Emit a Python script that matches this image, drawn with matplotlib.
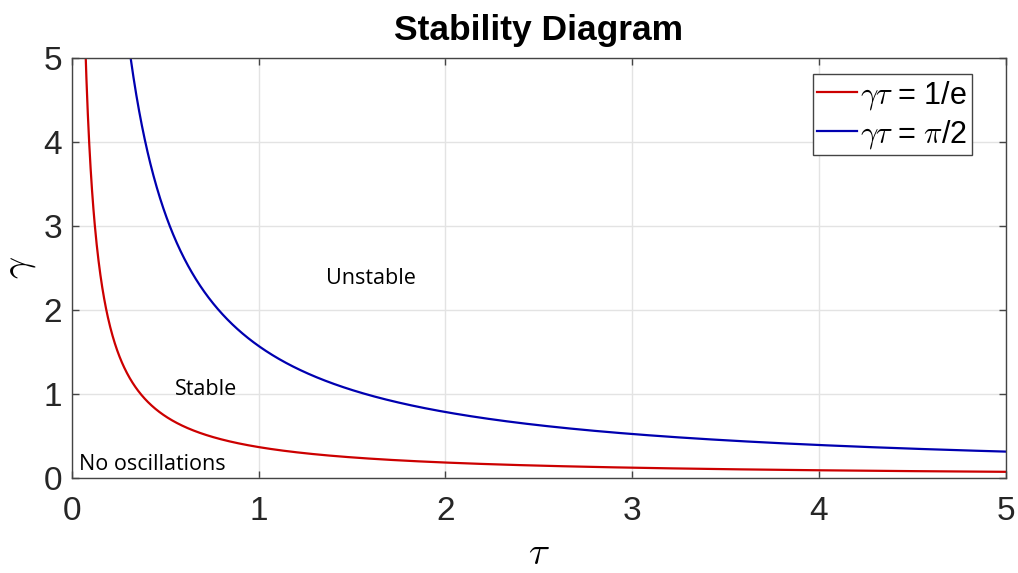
import matplotlib.pyplot as plt
import numpy as np

# curve constants gamma*tau = c (from the legend)
consts = [1 / np.e, np.pi / 2]
labels = [r'$\gamma\tau$ = 1/e', r'$\gamma\tau$ = $\pi$/2']
colors = ['#cc0000', '#0000b0']

region_names = ['Unstable', 'Stable', 'No oscillations']
region_tau = [1.36, 0.55, 0.035]
region_gamma = [2.38, 1.05, 0.16]

ticks = [0, 1, 2, 3, 4, 5]

plt.rcParams['mathtext.fontset'] = 'cm'
fig = plt.figure(figsize=(10.18, 5.73), dpi=100)
ax = fig.add_axes([0.0707, 0.1658, 0.9173, 0.733])

tau = np.linspace(0.01, 5, 2000)
for c, lab, col in zip(consts, labels, colors):
    ax.plot(tau, c / tau, color=col, lw=1.6, label=lab)

for name, x, y in zip(region_names, region_tau, region_gamma):
    ax.text(x, y, name, fontsize=15.5, family='Open Sans', va='center', ha='left')

ax.set_xlim(0, 5)
ax.set_ylim(0, 5)
ax.set_xticks(ticks)
ax.set_yticks(ticks)
ax.grid(True, color='#e3e3e3', lw=1)
ax.set_axisbelow(True)
ax.tick_params(direction='in', top=True, right=True, length=5, width=1,
               color='#444444', labelsize=24, labelcolor='#262626')
ax.tick_params(axis='x', pad=13)
ax.tick_params(axis='y', pad=7)
for lbl in ax.get_xticklabels() + ax.get_yticklabels():
    lbl.set_family('Liberation Sans')
for s in ax.spines.values():
    s.set_color('#444444')
    s.set_linewidth(1)

ax.set_xlabel(r'$\tau$', fontsize=28, labelpad=5)
ax.set_ylabel(r'$\gamma$', fontsize=28, labelpad=4)
ax.set_title('Stability Diagram', fontsize=25.5, fontweight='bold',
             family='Liberation Sans', pad=13)

leg = ax.legend(loc='upper right', prop={'family': 'Liberation Sans', 'size': 22},
                handlelength=1.3, handletextpad=0.1, borderpad=0.15, labelspacing=0.2,
                borderaxespad=0, fancybox=False, framealpha=1,
                bbox_to_anchor=(0.9636, 0.962))
leg.get_frame().set_edgecolor('#444444')
leg.get_frame().set_linewidth(1)

fig.savefig('out.png', dpi=100)
